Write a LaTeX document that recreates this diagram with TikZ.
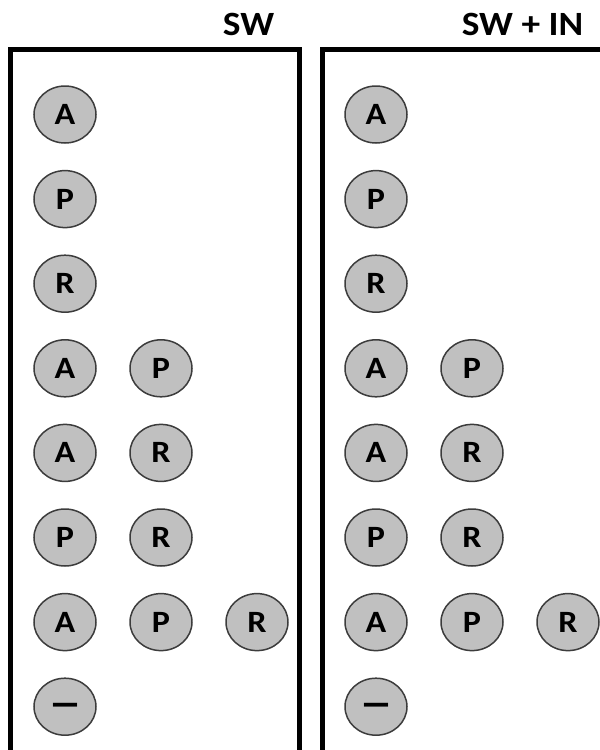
\documentclass[tikz,border=0pt]{standalone}
\usepackage{fontspec}
\setmainfont{Carlito}
\usetikzlibrary{shapes.geometric}
\definecolor{dotfill}{RGB}{192,192,192}
\definecolor{dotline}{RGB}{60,60,60}
\tikzset{
  dot/.style={ellipse, draw=dotline, fill=dotfill, line width=1.5pt,
    minimum width=62pt, minimum height=57pt, inner sep=0pt,
    font=\fontsize{31}{31}\selectfont\bfseries},
  panel/.style={draw=black, line width=4.5pt, line join=miter},
  title/.style={anchor=base, inner sep=0pt, font=\fontsize{34}{34}\selectfont\bfseries}
}
\newcommand{\wide}[1]{\scalebox{1.1}[1]{#1}}
\newcommand{\bigdash}{\raisebox{-10.5pt}[0pt][0pt]{\scalebox{2.0}[1.4]{–}}}
\begin{document}
\begin{tikzpicture}[x=1pt,y=-1pt]
\useasboundingbox (0,0) rectangle (600,750);
\clip (0,0) rectangle (600,750);
% panels
\coordinate (lb) at (10.5,760);
\coordinate (lt) at (10.5,49.5);
\coordinate (rt) at (299.5,49.5);
\coordinate (rb) at (299.5,760);
\draw[panel] (lb) -- (lt) -- (rt) -- (rb);
\coordinate (lb2) at (322.5,760);
\coordinate (lt2) at (322.5,49.5);
\coordinate (rt2) at (620,49.5);
\draw[panel] (lb2) -- (lt2) -- (rt2);
% titles
\node[title] (t1) at (248.5,35) {\wide{SW}};
\node[title] (t2) at (522.5,35) {\wide{SW + IN}};
% circles
\foreach \side/\dx in {L/0, R/311}{
  \foreach \row/\items in {1/{A}, 2/{P}, 3/{R}, 4/{A,P}, 5/{A,R}, 6/{P,R}, 7/{A,P,R}, 8/{\bigdash}}{
    \foreach \lab [count=\c] in \items {
      \node[dot] (\side\row-\c) at ({65+\dx+96*(\c-1)},{114.5+84.6*(\row-1)}) {\wide{\lab}};
    }
  }
}
\end{tikzpicture}
\end{document}
